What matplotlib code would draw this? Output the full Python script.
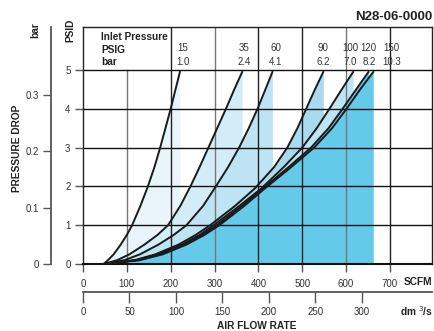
import numpy as np
import matplotlib
matplotlib.use('Agg')
import matplotlib.pyplot as plt

plt.rcParams['font.family'] = ['Liberation Sans', 'DejaVu Sans']

# inlet pressure curves: air flow (SCFM) vs pressure drop (PSID)
inlet_psig = ['15', '35', '60', '90', '100', '120', '150']
inlet_bar = ['1.0', '2.4', '4.1', '6.2', '7.0', '8.2', '10.3']

drop_low = [0, 0.1, 0.25, 0.5, 0.75, 1, 1.5, 2, 2.5, 3, 3.5, 4, 4.5, 4.95]
drop_high = [0, 0.1, 0.25, 0.5, 0.75, 1, 1.5, 1.95, 2.5, 3, 3.5, 4, 4.5, 4.95]

flow_15 = [47, 57, 70, 86, 100, 112, 131, 148, 163, 176, 188, 200, 211, 221]
flow_35 = [47, 78, 106, 140, 170, 194, 222, 245, 266, 286, 306, 326, 345, 363]
flow_60 = [47, 95, 130, 172, 207, 236, 274, 303, 331, 356, 378, 398, 416, 432]
flow_90 = [47, 118, 165, 218, 257, 290, 347, 392, 436, 466, 489, 509, 529, 548]
flow_100 = [47, 122, 172, 226, 266, 298, 357, 407, 458, 500, 533, 562, 590, 616]
flow_120 = [47, 126, 177, 231, 272, 305, 363, 411, 469, 520, 560, 592, 623, 651]
flow_150 = [47, 130, 182, 236, 277, 311, 368, 415, 475, 527, 568, 601, 632, 662]

flows = [flow_15, flow_35, flow_60, flow_90, flow_100, flow_120, flow_150]
drops = [drop_low, drop_low, drop_low, drop_high, drop_high, drop_high, drop_high]
fills = ['#e8f5fb', '#d3edf8', '#bee4f3', '#a9dbf0', '#bde5f4', '#64caea', '#64caea']
label_x = [228, 368, 440, 547, 610, 652, 704]

scfm_ticks = [0, 100, 200, 300, 400, 500, 600, 700]
psid_ticks = [0, 1, 2, 3, 4, 5]
bar_ticks = [0, 0.1, 0.2, 0.3]
dm3s_ticks = [0, 50, 100, 150, 200, 250, 300]

W, H = 434, 331
fig = plt.figure(figsize=(W / 100, H / 100), dpi=100)
ax = fig.add_axes([83 / W, 1 - 264 / H, 349 / W, 237 / H])
ax.set_xlim(0, 796)
ax.set_ylim(0, 6.11)

for f, d, c in zip(flows, drops, fills):
    ax.fill_between(f, 0, d, color=c, lw=0, zorder=1)

# grid
for x in scfm_ticks[1:]:
    top = 5 / 6.11 if x == 100 else 1
    col = '#777777' if x in (100, 300, 600) else '#222222'
    ax.axvline(x, ymax=top, color=col, lw=1.0, zorder=2)
for y in psid_ticks[1:]:
    ax.axhline(y, color='#111111', lw=1.0, zorder=2)

for f, d in zip(flows, drops):
    ax.plot(f, d, color='#1a1a1a', lw=1.4, zorder=3, solid_joinstyle='round')

for s in ['top', 'right', 'left']:
    ax.spines[s].set_linewidth(1.0)
    ax.spines[s].set_color('#222222')
ax.spines['bottom'].set_linewidth(1.5)
ax.spines['bottom'].set_color('#111111')

ax.set_xticks(scfm_ticks)
ax.set_yticks(psid_ticks)
ax.tick_params(direction='out', length=6, width=1, color='#555555',
               labelsize=7, labelcolor='#333333', pad=3)
ax.tick_params(axis='x', pad=5)

# bar axis on the left
sec_y = ax.secondary_yaxis(-32 / 349, functions=(lambda p: p * 0.0689476,
                                                 lambda b: b / 0.0689476))
sec_y.set_yticks(bar_ticks)
sec_y.set_yticklabels(['0', '0.1', '0.2', '0.3'])
sec_y.spines['left'].set_color('#555555')
sec_y.spines['left'].set_linewidth(1.3)
sec_y.tick_params(direction='out', length=6, width=1, color='#555555',
                  labelsize=7, labelcolor='#333333', pad=3)

# dm3/s axis below
sec_x = ax.secondary_xaxis(-28 / 237, functions=(lambda q: q * 0.4719,
                                                 lambda d: d / 0.4719))
sec_x.set_xticks(dm3s_ticks)
sec_x.spines['bottom'].set_color('#555555')
sec_x.spines['bottom'].set_linewidth(1.3)
sec_x.tick_params(direction='out', length=8, width=1, color='#555555',
                  labelsize=7, labelcolor='#333333', pad=3)


def px(x, y):
    return x / W, 1 - y / H


bold = dict(fontweight='bold', color='#222222')
fig.text(*px(432, 17), 'N28-06-0000', ha='right', va='center', fontsize=9.5, **bold)
fig.text(*px(101, 37), 'Inlet Pressure', ha='left', va='center', fontsize=7.3, **bold)
fig.text(*px(101, 50), 'PSIG', ha='left', va='center', fontsize=7.3, **bold)
fig.text(*px(101, 62), 'bar', ha='left', va='center', fontsize=7.3, **bold)
for lx, p, b in zip(label_x, inlet_psig, inlet_bar):
    ax.text(lx, 5.57, p, ha='center', va='center', fontsize=7, color='#333333')
    ax.text(lx, 5.21, b, ha='center', va='center', fontsize=7, color='#333333')

fig.text(*px(70, 30), 'PSID', rotation=90, ha='center', va='center', fontsize=7.3, **bold)
fig.text(*px(35, 30), 'bar', rotation=90, ha='center', va='center', fontsize=7.3, **bold)
fig.text(*px(17, 148), 'PRESSURE DROP', rotation=90, ha='center', va='center', fontsize=7.3, **bold)
fig.text(*px(432, 282), 'SCFM', ha='right', va='center', fontsize=7.3, **bold)
fig.text(*px(433, 311), r'dm $^3$/s', ha='right', va='center', fontsize=7.3, **bold)
fig.text(*px(257, 326), 'AIR FLOW RATE', ha='center', va='center', fontsize=7.3, **bold)

fig.savefig('out.png', dpi=100)
